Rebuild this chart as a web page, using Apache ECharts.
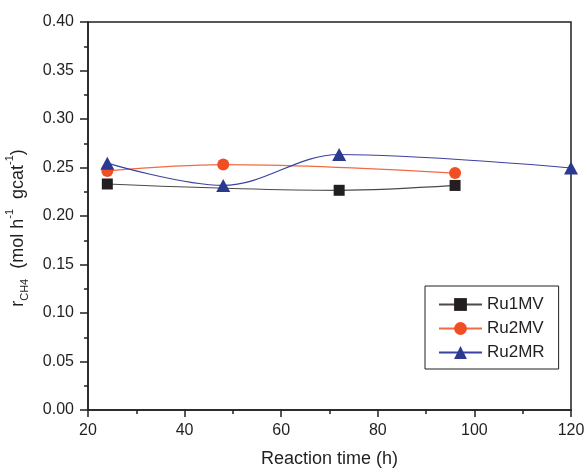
<!DOCTYPE html>
<html>
<head>
<meta charset="utf-8">
<script src="https://cdn.jsdelivr.net/npm/echarts@6/dist/echarts.min.js"></script>
<style>
  html, body { margin: 0; padding: 0; background: #ffffff; }
  #chart { width: 586px; height: 468px; }
</style>
</head>
<body>
<div id="chart"></div>
<script>
// Reaction time (h) and CH4 formation rate for each catalyst
const ru1mvTime = [24, 72, 96];
const ru1mvRate = [0.233, 0.2265, 0.2315];

const ru2mvTime = [24, 48, 96];
const ru2mvRate = [0.2465, 0.2530, 0.2443];

const ru2mrTime = [24, 48, 72, 120];
const ru2mrRate = [0.2545, 0.2315, 0.2634, 0.2495];

const seriesNames = ['Ru1MV', 'Ru2MV', 'Ru2MR'];

const xTicks = { min: 20, max: 120, step: 20 };
const yTicks = { min: 0, max: 0.4, step: 0.05 };

const pairs = (xs, ys) => xs.map((x, i) => [x, ys[i]]);

const ink = '#231f20';
const font = 'Liberation Sans, Arial, sans-serif';

const chart = echarts.init(document.getElementById('chart'), null, { renderer: 'canvas' });

const axisCommon = {
  axisLine: { show: true, lineStyle: { color: ink, width: 1.5 } },
  splitLine: { show: false },
  minorSplitLine: { show: false }
};

chart.setOption({
  animation: false,
  backgroundColor: '#ffffff',
  grid: {
    left: 88, right: 15, top: 22, bottom: 58,
    outerBoundsMode: 'none',
    containLabel: false,
    show: true, borderColor: ink, borderWidth: 1.5, backgroundColor: 'transparent'
  },
  xAxis: Object.assign({}, axisCommon, {
    type: 'value',
    min: xTicks.min, max: xTicks.max, interval: xTicks.step,
    axisTick: { show: true, inside: false, length: 7, lineStyle: { color: ink, width: 1.5 } },
    minorTick: { show: true, splitNumber: 2, length: 4, lineStyle: { color: ink, width: 1.5 } },
    axisLabel: { color: ink, fontFamily: font, fontSize: 16, margin: 13 },
    name: 'Reaction time (h)',
    nameLocation: 'middle',
    nameGap: 40,
    nameTextStyle: { color: ink, fontFamily: font, fontSize: 18 }
  }),
  yAxis: Object.assign({}, axisCommon, {
    type: 'value',
    min: yTicks.min, max: yTicks.max, interval: yTicks.step,
    axisTick: { show: true, inside: false, length: 8, lineStyle: { color: ink, width: 1.5 } },
    minorTick: { show: true, splitNumber: 2, length: 4, lineStyle: { color: ink, width: 1.5 } },
    axisLabel: {
      color: ink, fontFamily: font, fontSize: 16, margin: 14,
      formatter: v => v.toFixed(2)
    },
    name: '{a|r}{sub|CH4}{a|  (mol h}{sup|-1}{a|  gcat}{sup|-1}{a|)}',
    nameLocation: 'middle',
    nameGap: 52,
    nameRotate: 90,
    nameTextStyle: {
      color: ink,
      padding: [0, 24, 0, 0],
      rich: {
        a: { fontFamily: font, fontSize: 18, color: ink, lineHeight: 28, verticalAlign: 'middle' },
        sub: { fontFamily: font, fontSize: 11, color: ink, lineHeight: 28, verticalAlign: 'bottom', padding: [0, 0, 1, 0] },
        sup: { fontFamily: font, fontSize: 11, color: ink, lineHeight: 28, verticalAlign: 'top', padding: [1, 0, 0, 0] }
      }
    }
  }),
  legend: {
    left: 425, top: 286,
    orient: 'vertical',
    data: seriesNames,
    backgroundColor: '#ffffff',
    borderColor: ink, borderWidth: 1,
    padding: [10, 14, 8, 13],
    itemWidth: 43, itemHeight: 16, itemGap: 7,
    textStyle: { color: ink, fontFamily: font, fontSize: 17, lineHeight: 16 }
  },
  series: [
    {
      name: seriesNames[0], type: 'line', smooth: 0.35,
      data: pairs(ru1mvTime, ru1mvRate),
      symbol: 'rect', symbolSize: 11,
      itemStyle: { color: ink },
      lineStyle: { color: '#4a4a4a', width: 1.2 },
      z: 2
    },
    {
      name: seriesNames[1], type: 'line', smooth: 0.35,
      data: pairs(ru2mvTime, ru2mvRate),
      symbol: 'circle', symbolSize: 12,
      itemStyle: { color: '#f04e23' },
      lineStyle: { color: '#f26a43', width: 1.2 },
      z: 3
    },
    {
      name: seriesNames[2], type: 'line', smooth: 0.35,
      data: pairs(ru2mrTime, ru2mrRate),
      symbol: 'triangle', symbolSize: [14, 13],
      itemStyle: { color: '#2b3990' },
      lineStyle: { color: '#3a42a0', width: 1.2 },
      z: 4
    }
  ]
});
</script>
</body>
</html>
